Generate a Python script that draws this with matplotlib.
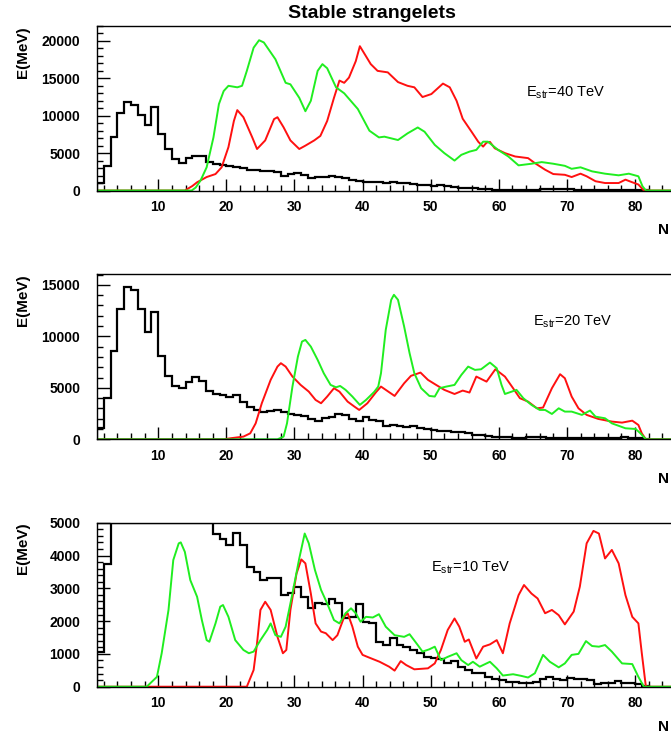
import numpy as np
import matplotlib
matplotlib.use("Agg")
from matplotlib import pyplot as plt
from matplotlib.ticker import MultipleLocator

plt.rcParams['font.family'] = ['Liberation Sans', 'DejaVu Sans']
plt.rcParams['mathtext.fontset'] = 'custom'
plt.rcParams['mathtext.rm'] = 'Liberation Sans'

# black histograms, bins of width 1 starting at N=1
hist_40 = [1000, 3300, 7100, 10300, 11900, 11500, 10100, 8700, 11200, 7500,
           5500, 4200, 3700, 4300, 4550, 4600, 3750, 3500, 3450, 3250,
           3200, 3050, 2800, 2700, 2650, 2550, 2500, 1950, 2150, 2300,
           2100, 1700, 1850, 1850, 1950, 1850, 1650, 1450, 1300, 1200,
           1100, 1100, 950, 1200, 1000, 950, 850, 750, 700, 600,
           680, 600, 450, 380, 350, 280, 220, 150, 120, 100,
           90, 80, 80, 70, 100, 150, 180, 150, 200, 150,
           120, 100, 90, 80, 60, 60, 50, 40, 40, 30, 20]
hist_20 = [1070, 4050, 8590, 12700, 14770, 14450, 12640, 10370, 12380, 8100,
           6160, 5180, 4960, 5570, 6090, 5700, 4730, 4370, 4310, 4150,
           4310, 3660, 3175, 2850, 2690, 2790, 2850, 2690, 2430, 2365,
           2300, 1980, 1810, 2100, 2140, 2460, 2365, 1980, 1810, 2200,
           1880, 1810, 1300, 1390, 1300, 1170, 1300, 1070, 970, 900,
           840, 810, 680, 750, 580, 420, 420, 360, 260, 260,
           200, 170, 150, 200, 200, 180, 150, 120, 150, 130,
           100, 100, 90, 80, 90, 100, 150, 250, 150, 100, 50]
hist_10 = [1050, 3740, 7000, 9500, 11000, 11500, 10500, 9800, 10200, 8500,
           7600, 6900, 6400, 6100, 5800, 5500, 5200, 4670, 4490, 4320,
           4690, 4320, 3640, 3500, 3250, 3300, 3300, 2790, 2870, 3030,
           2720, 2390, 2540, 2510, 2680, 2540, 2100, 2110, 2510, 1980,
           1950, 1370, 1270, 1490, 1270, 1220, 1120, 1020, 910, 860,
           830, 710, 790, 610, 510, 410, 430, 300, 220, 200,
           150, 150, 120, 120, 150, 250, 300, 250, 200, 280,
           230, 220, 200, 80, 100, 100, 170, 100, 100, 80, 20]

# red curves
red_40_n = [1, 13.9, 15.0, 15.7, 17.1, 18.4, 19.3, 20.3, 21.1, 21.6, 22.5, 23.8, 24.5, 25.7, 27.0,
            27.5, 28.4, 29.4, 30.7, 31.6, 32.9, 33.8, 34.8, 35.8, 36.6, 37.3, 38.0, 39.0, 39.6,
            40.2, 41.2, 42.2, 43.7, 45.2, 46.6, 47.6, 48.8, 50.1, 51.8, 52.8, 53.8, 54.7, 56.0,
            57.0, 57.7, 58.2, 58.7, 59.4, 60.9, 62.4, 64.3, 65.3, 66.8, 68.0, 69.7, 70.7, 72.0,
            72.9, 74.2, 75.6, 77.6, 78.6, 79.6, 80.5, 81.3, 88]
red_40_e = [0, 0, 600, 1100, 1800, 2200, 3100, 5800, 9300, 10750, 9800, 7100, 5550, 6700, 9550,
            9800, 8450, 6700, 5550, 6000, 6700, 7300, 9300, 12400, 14700, 14400, 15100, 17300, 19300,
            18400, 16900, 16000, 15800, 14500, 14000, 13800, 12500, 12900, 14300, 13800, 12000, 9600, 7860,
            6500, 5870, 6400, 6500, 5650, 5000, 4550, 4330, 3660, 2780, 2200, 2100, 1800, 2250,
            1900, 1240, 1000, 1000, 1450, 1100, 800, 0, 0]
red_20_n = [1, 19.6, 20.6, 22.5, 23.5, 24.3, 25.2, 26.5, 27.5, 28.0, 28.7, 29.7, 30.9, 32.1, 33.1,
            33.9, 34.8, 35.8, 36.6, 37.8, 38.8, 39.5, 40.7, 42.0, 42.7, 44.7, 46.1, 47.1, 48.5,
            49.6, 50.8, 52.0, 53.5, 54.7, 55.7, 56.7, 58.2, 59.5, 60.9, 62.1, 63.1, 64.3, 65.6,
            66.5, 67.8, 69.0, 69.7, 70.7, 71.7, 72.9, 74.6, 76.6, 78.1, 79.6, 80.5, 81.0, 81.6, 88]
red_20_e = [0, 0, 100, 260, 580, 1550, 3500, 5770, 7060, 7390, 7060, 6090, 5280, 4630, 3820,
            3500, 4150, 4960, 4630, 3660, 3175, 2850, 3500, 4600, 5120, 4210, 5440, 6160, 6480,
            5770, 5280, 4800, 4400, 4730, 4540, 6090, 5600, 6800, 6090, 4960, 3990, 3660, 3010,
            3080, 4960, 6320, 5930, 4150, 3010, 2370, 1980, 1720, 1620, 1810, 1390, 580, 0, 0]
red_10_n = [1, 23.0, 24.0, 24.5, 25.0, 25.7, 26.5, 27.5, 28.3, 28.8, 29.4, 30.3, 31.0, 31.6, 32.4,
            33.1, 33.9, 34.6, 35.6, 36.3, 37.3, 37.8, 38.5, 39.3, 40.0, 40.7, 42.5, 43.9, 44.7,
            45.6, 46.4, 47.6, 49.6, 50.6, 51.5, 52.5, 53.5, 54.2, 55.0, 55.6, 56.7, 57.7, 58.7,
            59.7, 60.6, 61.6, 62.9, 63.7, 64.8, 65.7, 66.8, 67.8, 68.8, 69.7, 71.0, 71.9, 72.9,
            73.9, 74.7, 75.6, 76.6, 77.6, 78.6, 79.6, 80.5, 81.0, 81.6, 88]
red_10_e = [0, 0, 510, 1320, 2340, 2590, 2340, 1520, 1020, 1120, 2340, 3450, 3880, 3760, 2840,
            1930, 1680, 1630, 1420, 1570, 2130, 2240, 1830, 1220, 970, 910, 760, 610, 490,
            780, 660, 530, 560, 710, 1120, 1730, 2080, 1830, 1370, 1440, 860, 1220, 1290,
            1420, 1020, 1930, 2790, 3100, 2840, 2690, 2240, 2340, 2180, 1900, 2290, 3050, 4370,
            4750, 4670, 3910, 4170, 3760, 2790, 2130, 1930, 1020, 0, 0]

# green curves
green_40_n = [1, 14.9, 15.5, 16.2, 17.1, 18.1, 18.9, 19.6, 20.3, 21.6, 22.3, 23.0, 24.0, 24.8, 25.5,
              27.2, 28.7, 29.4, 30.7, 31.6, 32.4, 33.4, 34.1, 34.8, 36.1, 37.3, 39.3, 41.0, 42.4,
              43.2, 45.2, 46.6, 48.1, 49.1, 50.6, 52.0, 53.5, 54.5, 55.7, 56.7, 57.7, 58.4, 59.9,
              61.4, 62.9, 64.8, 66.3, 68.0, 69.7, 70.7, 72.0, 73.7, 75.6, 77.6, 79.1, 80.5, 81.1,
              81.6, 88]
green_40_e = [0, 0, 400, 1330, 3100, 7100, 11550, 13300, 14000, 13800, 14000, 16000, 19100, 20100, 19800,
              17550, 14400, 14200, 12400, 10600, 12000, 16000, 16900, 16350, 13800, 13000, 10900, 8000, 7100,
              7200, 6750, 7640, 8430, 7860, 6100, 5000, 4000, 4770, 5200, 5430, 6530, 6530, 5430,
              4550, 3360, 3580, 3800, 3580, 3300, 2900, 3100, 2560, 2250, 2030, 2250, 1900, 570,
              0, 0]
green_20_n = [1, 27.5, 28.4, 28.9, 29.7, 30.5, 31.1, 31.6, 32.4, 33.4, 34.3, 35.3, 36.1, 36.7, 37.5,
              38.5, 39.6, 40.5, 41.7, 42.3, 42.7, 43.4, 44.2, 44.6, 45.2, 46.1, 46.9, 47.6, 48.6,
              49.8, 50.6, 51.3, 52.3, 53.5, 54.5, 55.5, 56.5, 57.4, 58.7, 59.7, 60.4, 60.9, 61.9,
              62.6, 63.6, 64.8, 66.0, 66.8, 67.8, 68.8, 69.7, 70.7, 72.2, 73.4, 74.2, 75.6, 76.6,
              78.6, 80.1, 80.8, 81.6, 88]
green_20_e = [0, 0, 260, 1550, 5120, 8030, 9490, 9650, 9000, 7710, 6410, 5280, 5050, 5180, 4800,
              4150, 3340, 3820, 4600, 5120, 6410, 10630, 13540, 14030, 13540, 10950, 8360, 6410, 4960,
              4210, 4150, 4960, 5120, 5280, 6250, 7060, 6740, 6800, 7450, 6900, 5280, 4400, 4630,
              4800, 3990, 3340, 2850, 2850, 2460, 3010, 2690, 2690, 2370, 2790, 2200, 2040, 1550,
              1070, 1000, 580, 0, 0]
green_10_n = [1, 8.3, 9.8, 10.5, 11.5, 12.2, 13.0, 13.3, 13.9, 14.7, 15.7, 16.4, 17.1, 17.5, 18.4,
              19.1, 19.5, 20.3, 21.3, 22.5, 23.3, 24.0, 25.0, 26.0, 26.5, 27.2, 28.0, 28.7, 29.7,
              30.7, 31.5, 32.1, 33.0, 33.9, 34.8, 35.8, 36.6, 37.5, 38.3, 39.0, 39.7, 40.5, 41.5,
              42.4, 43.4, 44.7, 46.1, 46.9, 48.1, 48.8, 49.8, 50.6, 51.5, 52.5, 53.8, 54.5, 55.5,
              56.2, 57.2, 58.7, 59.7, 60.6, 62.1, 63.3, 64.3, 65.3, 66.5, 67.5, 68.8, 69.7, 70.7,
              71.7, 72.8, 73.7, 74.7, 75.6, 76.6, 78.1, 79.6, 80.5, 81.3, 88]
green_10_e = [0, 0, 300, 1020, 2340, 3860, 4370, 4400, 4110, 3250, 2740, 2030, 1420, 1370, 1930,
              2440, 2490, 2130, 1420, 1120, 1020, 1070, 1420, 1730, 1930, 1570, 1520, 1830, 2840,
              3910, 4670, 4370, 3560, 2950, 2540, 2030, 1930, 2240, 2390, 2240, 1980, 2130, 2110,
              2210, 1830, 1570, 1520, 1600, 1270, 1070, 1140, 1220, 810, 910, 1020, 810, 660,
              760, 610, 760, 560, 340, 380, 330, 280, 410, 970, 760, 590, 710, 970,
              1000, 1390, 1240, 1220, 1270, 1070, 710, 690, 300, 0, 0]

labels = [r'E$_{\mathrm{str}}$=40 TeV', r'E$_{\mathrm{str}}$=20 TeV', r'E$_{\mathrm{str}}$=10 TeV']
ymaxes = [22000, 16050, 5000]
ymajor = [5000, 5000, 1000]
yminor = [1000, 1000, 200]

W, H = 671, 737
fig = plt.figure(figsize=(W / 100, H / 100), dpi=100)

# pixel boxes (top, bottom) of each frame, and label positions
frames = [(26, 190.5), (274, 439.3), (522.7, 686.7)]
label_xy = [(526, 93), (533, 322), (431, 568)]
left_px, px_per_n = 97, 6.81
xmin, xmax = 1, 88

panels = [(hist_40, red_40_n, red_40_e, green_40_n, green_40_e),
          (hist_20, red_20_n, red_20_e, green_20_n, green_20_e),
          (hist_10, red_10_n, red_10_e, green_10_n, green_10_e)]

for i, (hist, rn, re_, gn, ge) in enumerate(panels):
    top, bot = frames[i]
    ax = fig.add_axes([left_px / W, 1 - bot / H,
                       (xmax - xmin) * px_per_n / W, (bot - top) / H])
    edges = np.arange(1, len(hist) + 2)
    ax.stairs(np.minimum(hist, ymaxes[i]), edges, color='black', lw=1.6)
    ax.plot(rn, re_, color='#ff1010', lw=1.4, solid_joinstyle='round')
    ax.plot(gn, ge, color='#20ee20', lw=1.4, solid_joinstyle='round')
    ax.set_xlim(xmin, xmax)
    ax.set_ylim(0, ymaxes[i])
    ax.xaxis.set_major_locator(MultipleLocator(10))
    ax.xaxis.set_minor_locator(MultipleLocator(2))
    ax.yaxis.set_major_locator(MultipleLocator(ymajor[i]))
    ax.yaxis.set_minor_locator(MultipleLocator(yminor[i]))
    ax.tick_params(which='both', direction='in', width=1.0)
    ax.tick_params(axis='x', which='major', length=9, pad=7, labelsize=10)
    ax.tick_params(axis='x', which='minor', length=4.5)
    ax.tick_params(axis='y', which='major', length=9, pad=12, labelsize=10)
    ax.tick_params(axis='y', which='minor', length=4.5)
    for lab in ax.get_xticklabels() + ax.get_yticklabels():
        lab.set_fontweight('bold')
    for s in ax.spines.values():
        s.set_linewidth(1.0)
    fig.text(22.7 / W, 1 - top / H, 'E(MeV)', rotation=90, ha='center', va='top',
             fontsize=11, fontweight='bold')
    fig.text(658 / W, 1 - (bot + 40) / H, 'N', ha='left', va='center',
             fontsize=11, fontweight='bold')
    lx, ly = label_xy[i]
    fig.text(lx / W, 1 - ly / H, labels[i], ha='left', va='center', fontsize=10.5)

fig.text(372 / W, 1 - 14 / H, 'Stable strangelets', ha='center', va='center',
         fontsize=14, fontweight='bold')

fig.savefig('out.png', dpi=100)
